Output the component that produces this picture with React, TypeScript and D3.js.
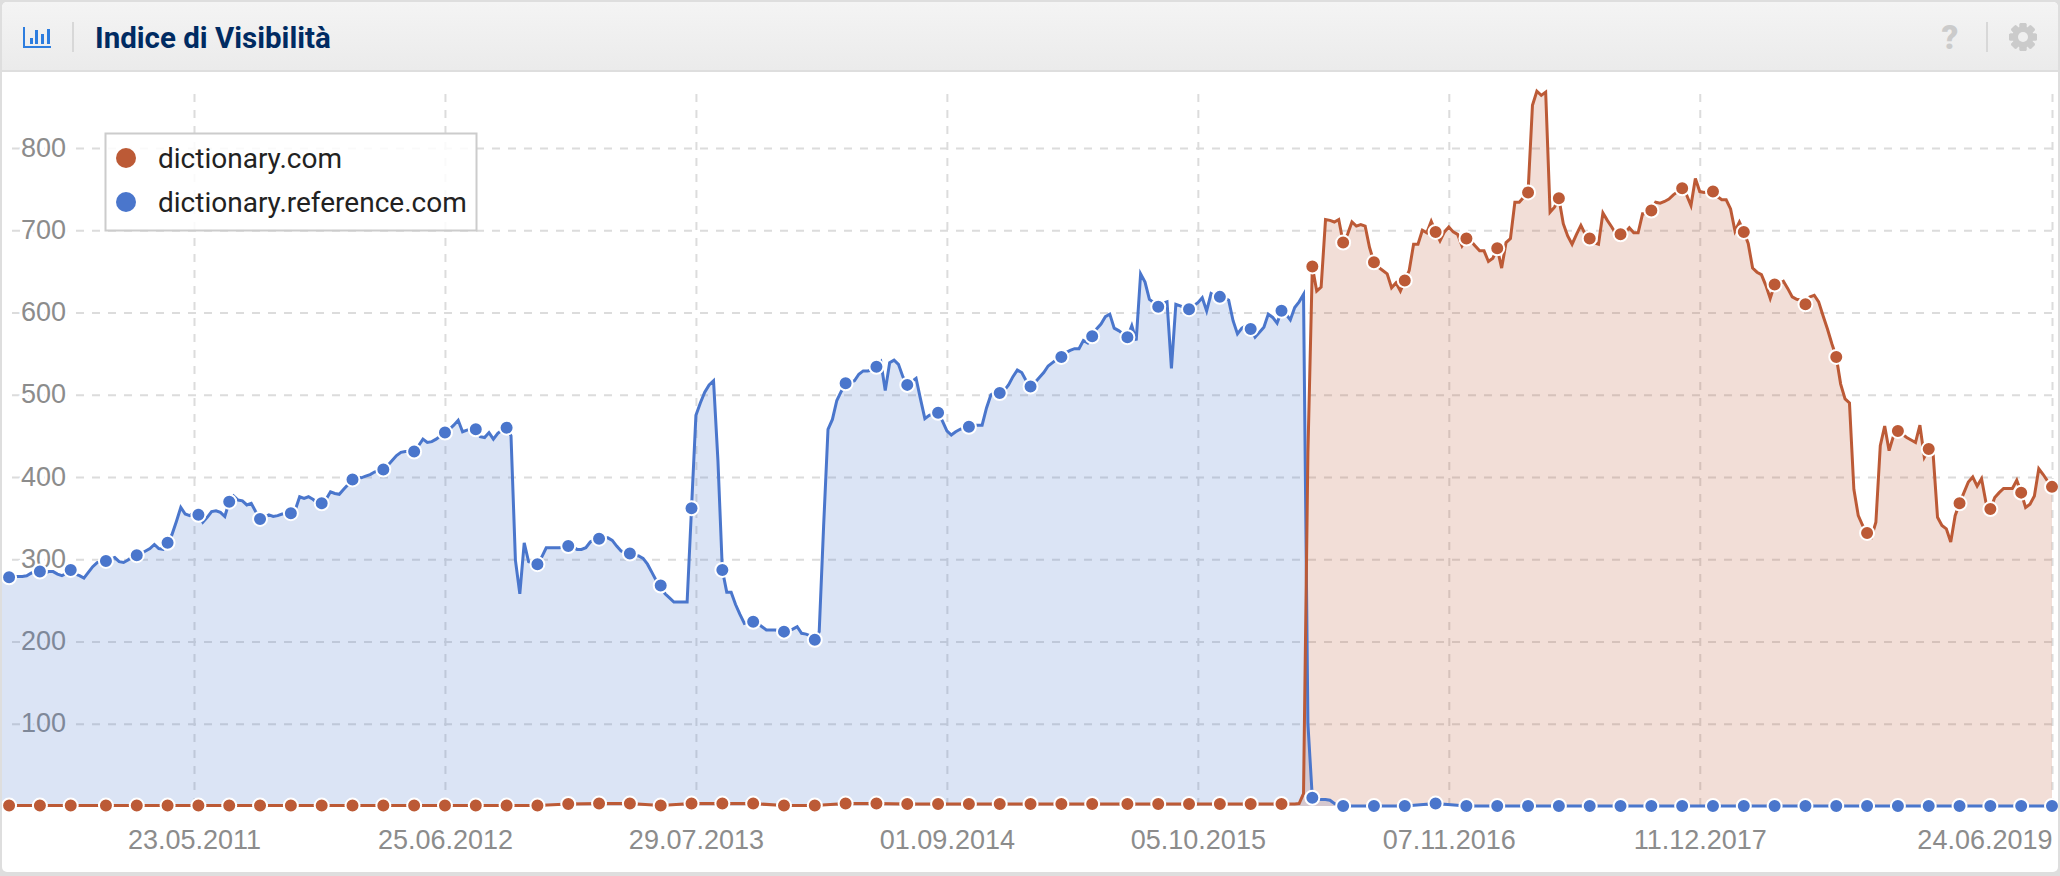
import React, { useEffect, useRef } from 'react';
import * as d3 from 'd3';

const chartTitle = 'Indice di Visibilità';
const seriesNames = ['dictionary.com', 'dictionary.reference.com'];
const yTicks = [100, 200, 300, 400, 500, 600, 700, 800];
const xTickLabels = ['23.05.2011', '25.06.2012', '29.07.2013', '01.09.2014', '05.10.2015', '07.11.2016', '11.12.2017', '24.06.2019'];

const firstWeek = '19.07.2010';
const lastWeek = '24.06.2019';
// weeks with no measurement in the source
const missingWeeks = ['27.12.2010', '08.06.2015'];
const leadIn = 2; // points before the first marker, cut off by the card edge
const markerEvery = 7;

// dictionary.reference.com, weekly up to the drop
const blueWeekly = [
  278, 278,
  278, 279, 279, 279, 280, 283, 285,
  285, 283, 285, 285, 282, 280, 283,
  287, 282, 280, 277, 284, 291, 296,
  298, 300, 302, 297, 296, 299, 303,
  305, 307, 310, 313, 318, 313, 312,
  320, 330, 346, 363, 355, 353, 357,
  354, 345, 351, 358, 359, 357, 352,
  370, 377, 372, 371, 366, 368, 358,
  349, 351, 354, 352, 353, 355, 355,
  356, 360, 376, 374, 376, 373, 369,
  368, 373, 382, 380, 379, 385, 391,
  397, 400, 399, 401, 403, 406, 408,
  409, 414, 420, 426, 430, 431, 431,
  431, 438, 446, 442, 443, 446, 450,
  454, 458, 463, 469, 455, 457, 458,
  458, 449, 448, 454, 446, 453, 457,
  460, 450, 299, 258, 320, 297, 295,
  294, 303, 314, 314, 314, 314, 315,
  316, 315, 312, 312, 314, 321, 324,
  325, 326, 326, 323, 316, 310, 308,
  307, 305, 304, 301, 294, 284, 274,
  268, 258, 253, 248, 248, 248, 248,
  362, 475, 490, 503, 512, 517, 420,
  287, 260, 260, 245, 233, 222, 224,
  224, 222, 218, 214, 214, 214, 213,
  212, 213, 215, 218, 210, 209, 207,
  202, 212, 340, 458, 470, 493, 504,
  514, 515, 517, 525, 529, 529, 530,
  534, 540, 505, 539, 542, 537, 522,
  512, 516, 520, 495, 471, 475, 477,
  478, 468, 456, 451, 455, 458, 460,
  461, 463, 463, 463, 484, 500, 503,
  502, 505, 512, 522, 530, 527, 517,
  510, 515, 521, 527, 535, 539, 543,
  546, 551, 554, 556, 556, 566, 563,
  571, 580, 586, 595, 598, 581, 578,
  570, 584, 566, 647, 637, 616, 612,
  607, 611, 613, 532, 610, 608, 606,
  604, 608, 612, 618, 602, 623, 620,
  619, 618, 615, 590, 574, 581, 584,
  580, 570, 576, 582, 598, 594, 587,
  602, 598, 591, 606, 613, 622, 100,
  10, 8, 8, 8, 7, 3, 1,
  0,
];

// after the drop the flat line is only read at the markers
const blueAtMarkers = [0, 0, 3, 0, 0, 0, 0, 0, 0, 0, 0, 0, 0, 0, 0, 0, 0, 0, 0, 0, 0, 0, 0];

// dictionary.com, flat line before the jump, read at the markers
const orangeAtMarkers = [
  0.5, 0.5, 0.5, 0.5, 0.5, 0.5, 0.5, 0.5, 0.5, 0.5, 0.5, 0.5, 0.5, 0.5, 0.5, 0.5,
  0.5, 0.5, 2.5, 3, 3, 0.5, 3, 3, 3, 0.5, 0.5, 3, 3,
  2.5, 2.5, 2.5, 2.5, 2.5, 2.5, 2.5, 2.5, 2.5, 2.5, 2.5, 2.5, 2.5,
];

const orangeWeekly = [
  2.5, 2.5, 2.5, 3, 15, 430,
  656, 626, 631, 713, 712, 710, 713,
  685, 695, 710, 705, 707, 705, 679,
  661, 655, 651, 647, 630, 636, 626,
  639, 651, 683, 683, 700, 697, 711,
  698, 687, 698, 704, 698, 695, 681,
  690, 687, 681, 675, 675, 662, 666,
  678, 654, 685, 690, 734, 734, 740,
  746, 852, 869, 864, 868, 722, 728,
  739, 708, 693, 683, 695, 706, 695,
  690, 685, 683, 721, 712, 704, 695,
  695, 697, 703, 697, 697, 720, 720,
  724, 734, 733, 735, 738, 743, 747,
  751, 743, 730, 763, 747, 746, 747,
  747, 741, 737, 737, 726, 699, 710,
  698, 684, 654, 649, 646, 633, 617,
  634, 635, 638, 629, 619, 616, 615,
  610, 619, 621, 613, 596, 580, 562,
  546, 513, 495, 490, 385, 353, 341,
  332, 327, 345, 438, 462, 432, 450,
  456, 452, 448, 445, 442, 463, 424,
  434, 428, 351, 341, 337, 321, 353,
  368, 381, 394, 400, 389, 398, 369,
  361, 375, 381, 386, 386, 386, 396,
  381, 363, 367, 377, 410, 403, 395,
  388,
];

const W = 2060;
const H = 876;
const BLUE = '#4a76cc';
const ORANGE = '#bc5a36';
const GRID = '#dcdcdc';
const LABEL = '#8c8c8c';

const parseDate = d3.utcParse('%d.%m.%Y');
const formatDate = d3.utcFormat('%d.%m.%Y');

export default function App() {
  const ref = useRef<SVGSVGElement>(null);

  useEffect(() => {
    const svg = d3.select(ref.current);
    svg.selectAll('*').remove();

    const weeks = d3.utcMonday
      .range(parseDate(firstWeek), d3.utcDay.offset(parseDate(lastWeek), 1))
      .filter((d) => !missingWeeks.includes(formatDate(d)));

    const x = d3.scaleUtc().domain([parseDate(xTickLabels[0]), parseDate(lastWeek)]).range([194, 2052]);
    const y = d3.scaleLinear().domain([0, 800]).range([806, 148]);

    const blueTail = blueWeekly.length;
    const bluePoints = [
      ...blueWeekly.map((v, i) => ({ week: i, value: v })),
      ...blueAtMarkers.map((v, i) => ({ week: blueTail + 6 + i * markerEvery, value: v })),
    ];
    const orangeJump = leadIn + (orangeAtMarkers.length - 1) * markerEvery + 1;
    const orangePoints = [
      ...orangeAtMarkers.map((v, i) => ({ week: leadIn + i * markerEvery, value: v })),
      ...orangeWeekly.map((v, i) => ({ week: orangeJump + i, value: v })),
    ];

    // card
    const defs = svg.append('defs');
    const grad = defs.append('linearGradient').attr('id', 'head').attr('x1', 0).attr('x2', 0).attr('y1', 0).attr('y2', 1);
    grad.append('stop').attr('offset', '0%').attr('stop-color', '#f4f4f4');
    grad.append('stop').attr('offset', '100%').attr('stop-color', '#ebebeb');
    defs.append('clipPath').attr('id', 'plot').append('rect').attr('x', 2).attr('y', 72).attr('width', 2056).attr('height', 800);

    svg.append('rect').attr('width', W).attr('height', H).attr('fill', '#dedede');
    svg.append('rect').attr('x', 2).attr('y', 2).attr('width', 2056).attr('height', 870).attr('rx', 5).attr('fill', '#fff');
    svg.append('path').attr('d', 'M2,70V7a5,5 0 0 1 5,-5H2053a5,5 0 0 1 5,5V70Z').attr('fill', 'url(#head)');
    svg.append('rect').attr('x', 2).attr('y', 70).attr('width', 2056).attr('height', 2).attr('fill', '#dedede');

    // header icons
    const bars = svg.append('g').attr('fill', '#2d7ddf');
    bars.append('rect').attr('x', 23).attr('y', 27).attr('width', 2).attr('height', 21);
    bars.append('rect').attr('x', 23).attr('y', 46).attr('width', 28).attr('height', 2);
    [[30, 38], [35, 30], [41, 34], [47, 29]].forEach(([bx, by]) => {
      bars.append('rect').attr('x', bx).attr('y', by).attr('width', 3).attr('height', 44 - by);
    });
    [73, 1987].forEach((sx) => {
      svg.append('rect').attr('x', sx - 1).attr('y', 22).attr('width', 2).attr('height', 30).attr('fill', '#d8d8d8');
    });
    svg.append('text').attr('x', 95).attr('y', 48)
      .style('font', '700 29.5px Roboto').attr('fill', '#002b62').text(chartTitle);
    svg.append('text').attr('x', 1950).attr('y', 49).attr('text-anchor', 'middle')
      .style('font', '900 33px Roboto').attr('fill', '#cbcbcb').text('?');

    const gear = svg.append('g').attr('transform', 'translate(2023,37)').attr('fill', '#cbcbcb');
    d3.range(8).forEach((i) => {
      gear.append('rect').attr('x', -3.5).attr('y', -14).attr('width', 7).attr('height', 28).attr('rx', 1.5)
        .attr('transform', `rotate(${i * 45})`);
    });
    gear.append('circle').attr('r', 10.5);
    gear.append('circle').attr('r', 5).attr('fill', '#efefef');

    // grid and axes sit under the translucent areas
    const xTicks = xTickLabels.map((d) => parseDate(d));
    const xAxis = svg.append('g').attr('transform', 'translate(0,806)')
      .call(d3.axisBottom(x).tickValues(xTicks).tickFormat(formatDate).tickSize(-714).tickPadding(0));
    xAxis.select('.domain').remove();
    xAxis.selectAll('line').attr('stroke', GRID).attr('stroke-width', 2).attr('stroke-dasharray', '8 8');
    xAxis.selectAll('text').style('font', '27px "Liberation Sans"').attr('fill', LABEL).attr('y', 43).attr('dy', 0);
    xAxis.selectAll('text').filter((d) => formatDate(d) === lastWeek).attr('text-anchor', 'end');

    const yAxis = svg.append('g').attr('transform', 'translate(2052,0)')
      .call(d3.axisLeft(y).tickValues(yTicks).tickSize(2044).tickPadding(0));
    yAxis.select('.domain').remove();
    yAxis.selectAll('line').attr('stroke', GRID).attr('stroke-width', 2).attr('stroke-dasharray', '8 8');
    yAxis.selectAll('text').style('font', '27px "Liberation Sans"').attr('fill', LABEL)
      .attr('x', 66 - 2052).attr('dy', '0.3em')
      .attr('stroke', '#fff').attr('stroke-width', 6).attr('paint-order', 'stroke');

    // series
    const plot = svg.append('g').attr('clip-path', 'url(#plot)');
    const area = d3.area().x((p) => x(weeks[p.week])).y0(y(0)).y1((p) => y(p.value));
    const line = d3.line().x((p) => x(weeks[p.week])).y((p) => y(p.value));

    const series = [
      { points: bluePoints, color: BLUE },
      { points: orangePoints, color: ORANGE },
    ];
    series.forEach((s) => {
      plot.append('path').attr('d', area(s.points)).attr('fill', s.color).attr('fill-opacity', 0.2);
    });
    series.forEach((s) => {
      plot.append('path').attr('d', line(s.points)).attr('fill', 'none').attr('stroke', s.color)
        .attr('stroke-width', 3).attr('stroke-linejoin', 'miter');
    });
    series.forEach((s) => {
      plot.selectAll(null)
        .data(s.points.filter((p) => p.week >= leadIn && (p.week - leadIn) % markerEvery === 0))
        .join('circle')
        .attr('cx', (p) => x(weeks[p.week]))
        .attr('cy', (p) => y(p.value))
        .attr('r', 7)
        .attr('fill', s.color)
        .attr('stroke', '#fff')
        .attr('stroke-width', 2);
    });

    // legend
    const legend = svg.append('g');
    legend.append('rect').attr('x', 105.5).attr('y', 133.5).attr('width', 371).attr('height', 97)
      .attr('fill', '#fff').attr('fill-opacity', 0.85).attr('stroke', '#cccccc').attr('stroke-width', 2);
    seriesNames.forEach((name, i) => {
      const rowY = 158 + i * 44;
      legend.append('circle').attr('cx', 126).attr('cy', rowY).attr('r', 10).attr('fill', i === 0 ? ORANGE : BLUE);
      legend.append('text').attr('x', 158).attr('y', rowY + 10)
        .style('font', '28px Roboto').attr('fill', '#222').text(name);
    });
  }, []);

  return (
    <svg
      ref={ref}
      width={W}
      height={H}
      viewBox={`0 0 ${W} ${H}`}
      style={{ position: 'absolute', left: 0, top: 0, display: 'block' }}
    />
  );
}
